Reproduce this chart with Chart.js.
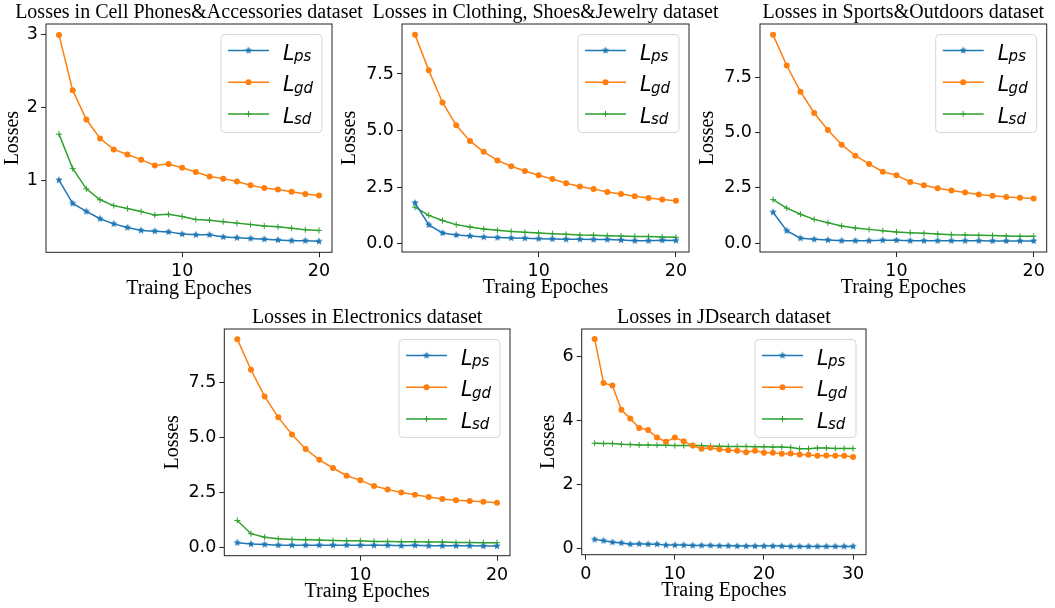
<!DOCTYPE html>
<html>
<head>
<meta charset="utf-8">
<script src="https://cdn.jsdelivr.net/npm/chart.js@4.4.0/dist/chart.umd.min.js"></script>
<style>
  html, body { margin: 0; padding: 0; background: #fff; }
  #page { position: relative; width: 1055px; height: 608px; overflow: hidden; }
  .box { position: absolute; }
</style>
</head>
<body>
<div id="page"></div>
<script>
// epochs on the x axis
const epochs20 = [1,2,3,4,5,6,7,8,9,10,11,12,13,14,15,16,17,18,19,20];
const epochs30 = [1,2,3,4,5,6,7,8,9,10,11,12,13,14,15,16,17,18,19,20,21,22,23,24,25,26,27,28,29,30];

// Cell Phones&Accessories
const cellPs = [1.01,0.69,0.58,0.48,0.41,0.36,0.32,0.31,0.30,0.27,0.26,0.26,0.23,0.22,0.21,0.20,0.19,0.18,0.18,0.17];
const cellGd = [3.00,2.24,1.84,1.58,1.43,1.36,1.29,1.21,1.23,1.18,1.12,1.06,1.03,0.99,0.94,0.90,0.88,0.85,0.82,0.80];
const cellSd = [1.64,1.17,0.89,0.74,0.66,0.62,0.58,0.53,0.54,0.51,0.47,0.46,0.44,0.42,0.40,0.38,0.37,0.35,0.33,0.32];

// Clothing, Shoes&Jewelry
const clothPs = [1.80,0.83,0.47,0.38,0.34,0.29,0.27,0.25,0.24,0.22,0.21,0.19,0.19,0.18,0.18,0.16,0.13,0.13,0.15,0.14];
const clothGd = [9.23,7.66,6.24,5.23,4.54,4.06,3.68,3.42,3.21,3.02,2.86,2.67,2.53,2.42,2.28,2.19,2.09,2.02,1.95,1.90];
const clothSd = [1.61,1.25,1.02,0.84,0.74,0.65,0.59,0.54,0.50,0.47,0.44,0.41,0.38,0.37,0.35,0.34,0.32,0.31,0.29,0.28];

// Sports&Outdoors
const sportPs = [1.40,0.57,0.23,0.18,0.15,0.12,0.12,0.12,0.14,0.14,0.12,0.12,0.12,0.12,0.12,0.12,0.11,0.11,0.11,0.11];
const sportGd = [9.40,8.02,6.84,5.88,5.11,4.45,3.95,3.58,3.23,3.07,2.77,2.62,2.48,2.38,2.29,2.20,2.15,2.09,2.06,2.02];
const sportSd = [1.97,1.59,1.31,1.08,0.93,0.78,0.69,0.63,0.57,0.51,0.48,0.45,0.42,0.39,0.38,0.36,0.35,0.33,0.32,0.32];

// Electronics
const elecPs = [0.23,0.17,0.15,0.12,0.12,0.12,0.12,0.12,0.12,0.11,0.11,0.11,0.09,0.11,0.09,0.09,0.09,0.09,0.08,0.08];
const elecGd = [9.47,8.08,6.87,5.92,5.14,4.48,3.99,3.62,3.27,3.07,2.80,2.65,2.51,2.41,2.30,2.21,2.16,2.12,2.09,2.04];
const elecSd = [1.24,0.64,0.48,0.41,0.38,0.36,0.35,0.33,0.32,0.32,0.29,0.29,0.27,0.27,0.26,0.26,0.24,0.24,0.23,0.23];

// JDsearch
const jdPs = [0.28,0.24,0.19,0.17,0.13,0.14,0.13,0.13,0.10,0.10,0.10,0.09,0.09,0.09,0.08,0.08,0.07,0.07,0.07,0.07,0.07,0.07,0.06,0.06,0.06,0.06,0.06,0.06,0.06,0.06];
const jdGd = [6.56,5.18,5.10,4.34,4.07,3.77,3.71,3.47,3.34,3.47,3.35,3.22,3.12,3.15,3.10,3.07,3.06,3.01,3.06,2.99,2.99,2.96,2.97,2.94,2.93,2.90,2.91,2.90,2.90,2.86];
const jdSd = [3.29,3.28,3.28,3.26,3.25,3.24,3.24,3.23,3.23,3.22,3.22,3.22,3.22,3.20,3.20,3.19,3.19,3.19,3.18,3.18,3.17,3.17,3.16,3.12,3.12,3.14,3.14,3.13,3.13,3.13];

// tick values and labels
const xTicks20 = [10, 20];
const xTicks30 = [0, 10, 20, 30];
const yTicksCell = [1, 2, 3];
const yLabelsCell = ['1', '2', '3'];
const yTicksBig = [0, 2.5, 5, 7.5];
const yLabelsBig = ['0.0', '2.5', '5.0', '7.5'];
const yTicksJd = [0, 2, 4, 6];
const yLabelsJd = ['0', '2', '4', '6'];

const seriesNames = ['ps', 'gd', 'sd'];
const colors = ['#1f77b4', '#ff7f0e', '#2ca02c'];

const SERIF = '"Liberation Serif", "Times New Roman", serif';

// filled 5-point star like matplotlib '*'
function makeStar(color) {
  const c = document.createElement('canvas');
  c.width = 10; c.height = 10;
  const g = c.getContext('2d');
  g.fillStyle = color;
  g.beginPath();
  for (let i = 0; i < 10; i++) {
    const r = i % 2 === 0 ? 3.9 : 1.7;
    const a = -Math.PI / 2 + i * Math.PI / 5;
    const px = 5 + r * Math.cos(a), py = 5 + r * Math.sin(a);
    if (i === 0) g.moveTo(px, py); else g.lineTo(px, py);
  }
  g.closePath();
  g.fill();
  return c;
}
const starImg = makeStar(colors[0]);

function drawMarker(ctx, i, x, y) {
  ctx.save();
  if (i === 0) {
    ctx.drawImage(starImg, x - 5, y - 5);
  } else if (i === 1) {
    ctx.fillStyle = colors[1];
    ctx.beginPath(); ctx.arc(x, y, 3, 0, Math.PI * 2); ctx.fill();
  } else {
    ctx.strokeStyle = colors[2]; ctx.lineWidth = 1;
    ctx.beginPath();
    ctx.moveTo(x - 3, y); ctx.lineTo(x + 3, y);
    ctx.moveTo(x, y - 3); ctx.lineTo(x, y + 3);
    ctx.stroke();
  }
  ctx.restore();
}

// axes frame (all four spines) and the title centred over the axes
const framePlugin = {
  id: 'frame',
  afterDraw(chart) {
    const {ctx, chartArea: a} = chart;
    ctx.save();
    ctx.strokeStyle = '#222';
    ctx.lineWidth = 1;
    ctx.strokeRect(a.left, a.top, a.right - a.left, a.bottom - a.top);
    const t = chart.options.plugins.frame.title;
    ctx.fillStyle = '#000';
    ctx.font = '20px ' + SERIF;
    ctx.textAlign = 'center';
    ctx.textBaseline = 'alphabetic';
    ctx.fillText(t, (a.left + a.right) / 2, a.top - 6);
    ctx.restore();
  }
};

// matplotlib-style legend with subscripts
const legendPlugin = {
  id: 'mplLegend',
  afterDraw(chart) {
    const {ctx, chartArea: a} = chart;
    const bw = 101, bh = 98;
    const x0 = a.right - 10 - bw, y0 = a.top + 10.5;
    ctx.save();
    ctx.beginPath();
    ctx.roundRect(x0, y0, bw, bh, 4);
    ctx.fillStyle = 'rgba(255,255,255,0.85)';
    ctx.fill();
    ctx.strokeStyle = '#d6d6d6';
    ctx.lineWidth = 1;
    ctx.stroke();
    chart.data.datasets.forEach((ds, i) => {
      const y = y0 + 16 + i * 31.7;
      ctx.strokeStyle = ds.borderColor;
      ctx.lineWidth = 1.5;
      ctx.beginPath(); ctx.moveTo(x0 + 7, y); ctx.lineTo(x0 + 48, y); ctx.stroke();
      drawMarker(ctx, i, x0 + 27.5, y);
      ctx.fillStyle = '#000';
      ctx.textAlign = 'left';
      ctx.textBaseline = 'alphabetic';
      ctx.font = 'italic 20.5px "DejaVu Sans"';
      ctx.fillText('L', x0 + 62, y + 9);
      const w = ctx.measureText('L').width;
      ctx.font = 'italic 15px "DejaVu Sans"';
      ctx.fillText(seriesNames[i], x0 + 62 + w - 0.5, y + 10.5);
    });
    ctx.restore();
  }
};

const PADL = 75, PADR = 55, PADT = 30, PADB = 50, XH = 48;

function makeChart(p) {
  const page = document.getElementById('page');
  const [al, at, ar, ab] = p.area;
  const left = Math.floor(al - PADL), top = Math.floor(at - PADT);
  const W = Math.ceil(ar + PADR) - left, H = Math.ceil(ab + PADB) - top;
  const div = document.createElement('div');
  div.className = 'box';
  div.style.left = left + 'px';
  div.style.top = top + 'px';
  div.style.width = W + 'px';
  div.style.height = H + 'px';
  const cv = document.createElement('canvas');
  cv.width = W; cv.height = H;
  div.appendChild(cv);
  page.appendChild(div);

  const datasets = [p.ps, p.gd, p.sd].map((vals, i) => ({
    label: 'L' + seriesNames[i],
    data: p.epochs.map((e, k) => ({x: e, y: vals[k]})),
    borderColor: colors[i],
    backgroundColor: colors[i],
    borderWidth: 1.5,
    tension: 0,
    pointStyle: i === 0 ? starImg : (i === 1 ? 'circle' : 'cross'),
    pointRadius: 3,
    pointBorderWidth: i === 2 ? 1 : 0,
    pointBackgroundColor: colors[i],
    pointBorderColor: colors[i]
  }));

  new Chart(cv, {
    type: 'line',
    data: {datasets},
    options: {
      responsive: false,
      animation: false,
      events: [],
      layout: {
        padding: {
          left: al - left - p.yw,
          right: left + W - ar,
          top: at - top,
          bottom: top + H - ab - XH
        }
      },
      plugins: {
        legend: {display: false},
        tooltip: {enabled: false},
        title: {display: false},
        frame: {title: p.title}
      },
      scales: {
        x: {
          type: 'linear',
          min: p.xMin, max: p.xMax,
          afterFit(s) { s.height = XH; },
          afterBuildTicks(s) { s.ticks = p.xTicks.map(v => ({value: v})); },
          ticks: {
            autoSkip: false, maxRotation: 0, padding: 4,
            color: '#000',
            font: {family: '"DejaVu Sans"', size: 17.5},
            callback: (v) => String(v)
          },
          grid: {drawOnChartArea: false, drawTicks: true, tickLength: 5, color: '#222'},
          border: {display: false},
          title: {
            display: true, text: 'Traing Epoches', color: '#000',
            font: {family: SERIF, size: 20, lineHeight: 1.2},
            padding: {top: 0, bottom: 0}
          }
        },
        y: {
          type: 'linear',
          min: p.yMin, max: p.yMax,
          afterFit(s) { s.width = p.yw; },
          afterBuildTicks(s) { s.ticks = p.yTicks.map(v => ({value: v})); },
          ticks: {
            autoSkip: false, padding: 3,
            color: '#000',
            font: {family: '"DejaVu Sans"', size: 17.5},
            callback: (v, idx) => p.yLabels[idx]
          },
          grid: {drawOnChartArea: false, drawTicks: true, tickLength: 5, color: '#222'},
          border: {display: false},
          title: {
            display: true, text: 'Losses', color: '#000',
            font: {family: SERIF, size: 20, lineHeight: 1.2},
            padding: {top: 1, bottom: 0}
          }
        }
      }
    },
    plugins: [framePlugin, legendPlugin]
  });
}

makeChart({
  title: 'Losses in Cell Phones&Accessories dataset',
  area: [46, 24, 332, 252.3], yw: 46,
  epochs: epochs20, ps: cellPs, gd: cellGd, sd: cellSd,
  xMin: 0.05, xMax: 20.95, xTicks: xTicks20,
  yMin: 0.02, yMax: 3.15, yTicks: yTicksCell, yLabels: yLabelsCell
});
makeChart({
  title: 'Losses in Clothing, Shoes&Jewelry dataset',
  area: [402, 24, 689, 252], yw: 65,
  epochs: epochs20, ps: clothPs, gd: clothGd, sd: clothSd,
  xMin: 0.05, xMax: 20.95, xTicks: xTicks20,
  yMin: -0.37, yMax: 9.71, yTicks: yTicksBig, yLabels: yLabelsBig
});
makeChart({
  title: 'Losses in Sports&Outdoors dataset',
  area: [760, 24, 1046.7, 252], yw: 65,
  epochs: epochs20, ps: sportPs, gd: sportGd, sd: sportSd,
  xMin: 0.05, xMax: 20.95, xTicks: xTicks20,
  yMin: -0.39, yMax: 9.89, yTicks: yTicksBig, yLabels: yLabelsBig
});
makeChart({
  title: 'Losses in Electronics dataset',
  area: [224.3, 329, 510, 555.7], yw: 65,
  epochs: epochs20, ps: elecPs, gd: elecGd, sd: elecSd,
  xMin: 0.05, xMax: 20.95, xTicks: xTicks20,
  yMin: -0.36, yMax: 9.93, yTicks: yTicksBig, yLabels: yLabelsBig
});
makeChart({
  title: 'Losses in JDsearch dataset',
  area: [581.7, 329, 866, 554.7], yw: 46,
  epochs: epochs30, ps: jdPs, gd: jdGd, sd: jdSd,
  xMin: -0.45, xMax: 31.45, xTicks: xTicks30,
  yMin: -0.2, yMax: 6.87, yTicks: yTicksJd, yLabels: yLabelsJd
});
</script>
</body>
</html>
